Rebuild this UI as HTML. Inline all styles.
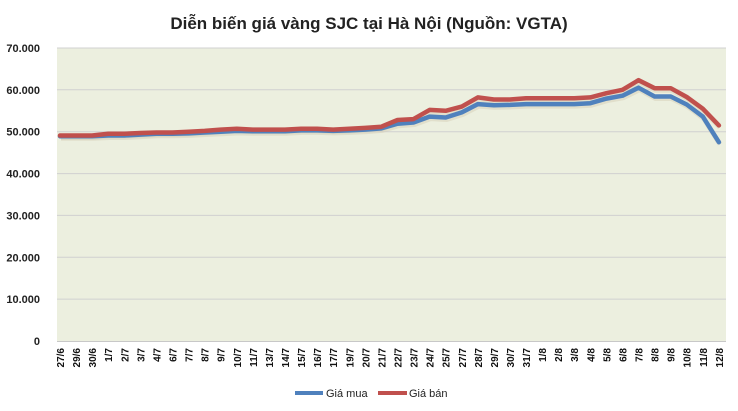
<!DOCTYPE html>
<html><head><meta charset="utf-8"><style>
body{margin:0;background:#fff;}
svg{display:block;font-family:"Liberation Sans",sans-serif;}
</style></head><body>
<svg id="c" width="738" height="411" xmlns="http://www.w3.org/2000/svg">
<text x="369" y="29" text-anchor="middle" font-size="17" font-weight="bold" fill="#222">Diễn biến giá vàng SJC tại Hà Nội (Nguồn: VGTA)</text>
<rect x="57" y="48" width="669" height="293" fill="#ECEFDF"/>
<g id="grid" stroke="#d0d0d0" stroke-width="1"></g>
<line x1="57" y1="341.5" x2="726" y2="341.5" stroke="#c8c8c8"/>
<g id="ylab" font-size="11" font-weight="bold" fill="#222" text-anchor="end"></g>
<g id="xlab" font-size="10" font-weight="bold" fill="#111"></g>
<g id="lines"></g>
<line x1="295" y1="393" x2="323" y2="393" stroke="#4F81BD" stroke-width="4"/>
<text x="326" y="397" font-size="11" fill="#222">Giá mua</text>
<line x1="378" y1="393" x2="407" y2="393" stroke="#C0504D" stroke-width="4"/>
<text x="409" y="397" font-size="11" fill="#222">Giá bán</text>
</svg>
<script>
var NS="http://www.w3.org/2000/svg";
function el(p,t,a,txt){var e=document.createElementNS(NS,t);for(var k in a)e.setAttribute(k,a[k]);if(txt!=null)e.textContent=txt;p.appendChild(e);return e;}
var g=document.getElementById('grid'),yl=document.getElementById('ylab');
var ylabs=["0","10.000","20.000","30.000","40.000","50.000","60.000","70.000"];
for(var i=0;i<8;i++){var y=341-i*41.86;if(i>0)el(g,'line',{x1:57,x2:726,y1:y.toFixed(1),y2:y.toFixed(1)});el(yl,'text',{x:40,y:(y+4).toFixed(1)},ylabs[i]);}
var labs=["27/6","29/6","30/6","1/7","2/7","3/7","4/7","6/7","7/7","8/7","9/7","10/7","11/7","13/7","14/7","15/7","16/7","17/7","19/7","20/7","21/7","22/7","23/7","24/7","25/7","27/7","28/7","29/7","30/7","31/7","1/8","2/8","3/8","4/8","5/8","6/8","7/8","8/8","9/8","10/8","11/8","12/8"];
var buy=[48.9,48.9,48.9,49.1,49.1,49.3,49.5,49.5,49.6,49.8,50.0,50.2,50.1,50.1,50.1,50.3,50.3,50.2,50.3,50.5,50.8,51.9,52.2,53.6,53.4,54.6,56.6,56.3,56.4,56.6,56.6,56.6,56.6,56.8,57.9,58.6,60.5,58.4,58.4,56.5,53.6,47.5];
var sell=[49.1,49.1,49.1,49.5,49.5,49.7,49.8,49.8,50.0,50.2,50.5,50.7,50.5,50.5,50.5,50.7,50.7,50.5,50.7,50.9,51.2,52.8,53.0,55.2,55.0,56.0,58.2,57.7,57.7,58.0,58.0,58.0,58.0,58.2,59.2,60.0,62.3,60.4,60.4,58.3,55.5,51.5];
var xl=document.getElementById('xlab');
function X(i){return 60+i*16.07;}
for(var i=0;i<labs.length;i++){var x=X(i)+4;el(xl,'text',{x:0,y:0,'text-anchor':'end',transform:'translate('+x.toFixed(1)+',348) rotate(-90)'},labs[i]);}
var L=document.getElementById('lines');
function pts(a,dx,dy){return a.map(function(v,i){return (X(i)+dx).toFixed(1)+','+(341-v*4.186+dy).toFixed(1);}).join(' ');}
el(L,'polyline',{points:pts(buy,1,2),fill:'none',stroke:'#d6d0b8','stroke-width':5,opacity:0.5,'stroke-linejoin':'round'});
el(L,'polyline',{points:pts(sell,1,2),fill:'none',stroke:'#d6d0b8','stroke-width':5,opacity:0.5,'stroke-linejoin':'round'});
el(L,'polyline',{points:pts(buy,0,0),fill:'none',stroke:'#4F81BD','stroke-width':4.5,'stroke-linejoin':'round','stroke-linecap':'round'});
el(L,'polyline',{points:pts(sell,0,0),fill:'none',stroke:'#C0504D','stroke-width':4.5,'stroke-linejoin':'round','stroke-linecap':'round'});
</script>
</body></html>
